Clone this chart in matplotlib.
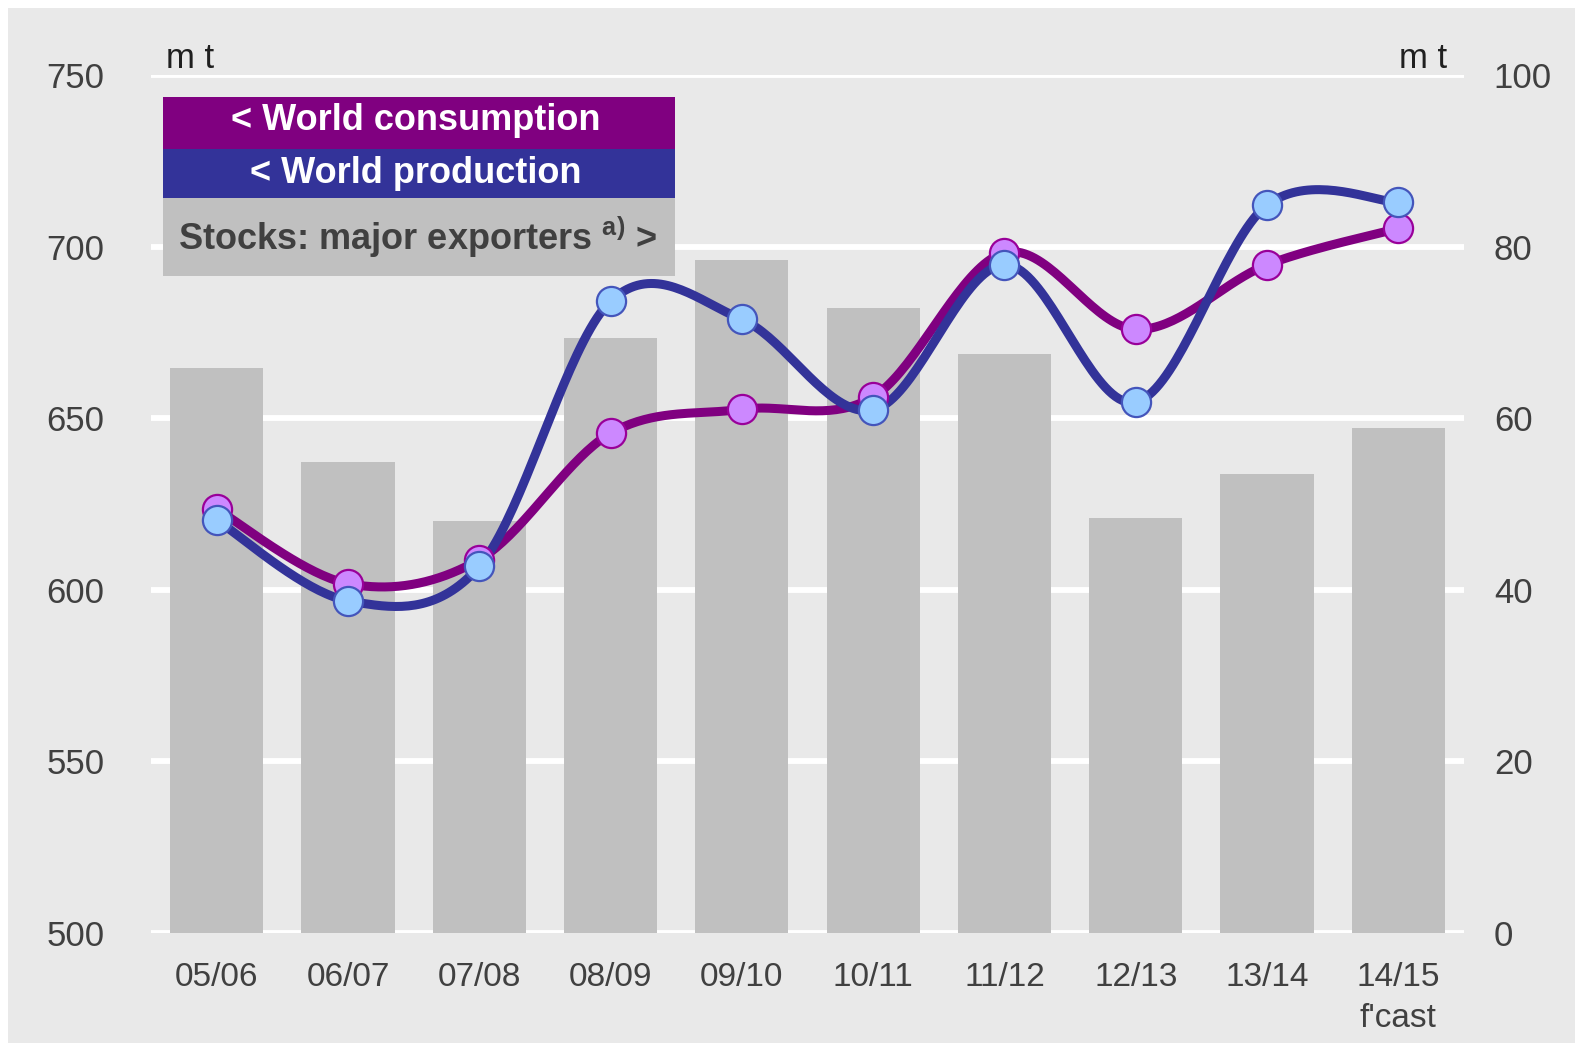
import numpy as np
import matplotlib
matplotlib.use("Agg")
import matplotlib.pyplot as plt
from matplotlib.patches import Rectangle

# ---- data ----
seasons = ["05/06", "06/07", "07/08", "08/09", "09/10", "10/11", "11/12", "12/13", "13/14", "14/15\nf'cast"]
stocks = [65.8, 54.9, 48.0, 69.4, 78.4, 72.9, 67.5, 48.4, 53.5, 58.8]
consumption = [623.5, 601.8, 608.8, 645.6, 652.6, 656.2, 698.2, 675.9, 694.7, 705.3]
production = [620.3, 596.8, 606.8, 684.1, 678.8, 652.4, 694.7, 654.7, 712.1, 712.9]
left_ticks = [500, 550, 600, 650, 700, 750]
right_ticks = [0, 20, 40, 60, 80, 100]

FONT = "Liberation Sans"
plt.rcParams["font.family"] = [FONT, "DejaVu Sans"]
BG = "#e9e9e9"
TXT = "#404040"


def smooth(xs, ys, n=40):
    """Excel-like smoothed line (cubic Bezier through points)."""
    P = np.column_stack([xs, ys]).astype(float)
    out = []
    m = len(P)
    for i in range(m - 1):
        p0 = P[i - 1] if i > 0 else P[i]
        p1 = P[i]
        p2 = P[i + 1]
        p3 = P[i + 2] if i + 2 < m else P[i + 1]
        c1 = p1 + (p2 - p0) / 6.0
        c2 = p2 - (p3 - p1) / 6.0
        t = np.linspace(0, 1, n)[:, None]
        seg = ((1 - t) ** 3) * p1 + 3 * ((1 - t) ** 2) * t * c1 + 3 * (1 - t) * t ** 2 * c2 + t ** 3 * p2
        out.append(seg if i == 0 else seg[1:])
    s = np.vstack(out)
    return s[:, 0], s[:, 1]


W, H = 1583, 1051
fig = plt.figure(figsize=(W / 100, H / 100), dpi=100)
fig.patch.set_facecolor("white")
fig.patches.append(Rectangle((8 / W, 8 / H), (W - 16) / W, (H - 16) / H,
                             transform=fig.transFigure, facecolor=BG, edgecolor="none", zorder=-10))

ax = fig.add_axes([151 / W, (H - 933) / H, (1464 - 151) / W, (933 - 75) / H])
ax.set_facecolor("none")
axl = ax.twinx()
x = np.arange(len(seasons))

# stocks bars (right scale)
ax.bar(x, stocks, width=0.71, color="#c0c0c0", zorder=2)
ax.set_ylim(0, 100)
ax.set_xlim(-0.5, len(seasons) - 0.5)
ax.set_yticks(right_ticks)
ax.tick_params(axis="y", left=False, right=False, labelleft=False, labelright=True,
               labelsize=25, labelcolor=TXT, pad=18)
for t in right_ticks:
    ax.axhline(t, color="white", lw=4.2, zorder=1)
ax.set_xticks(x)
ax.set_xticklabels(seasons, linespacing=1.4)
ax.tick_params(axis="x", length=0, pad=21, labelsize=24, labelcolor=TXT)
for s in ax.spines.values():
    s.set_visible(False)

# lines (left scale)
axl.set_ylim(500, 750)
axl.set_yticks(left_ticks)
axl.tick_params(axis="y", left=False, right=False, labelleft=True, labelright=False,
                labelsize=25, labelcolor=TXT, pad=30)
for s in axl.spines.values():
    s.set_visible(False)

cx, cy = smooth(x, consumption)
px, py = smooth(x, production)
axl.plot(cx, cy, color="#800080", lw=6.5, zorder=3, solid_capstyle="round")
axl.plot(px, py, color="#333399", lw=6.5, zorder=4, solid_capstyle="round")
axl.plot(x, consumption, ls="none", marker="o", ms=21, mfc="#cc88ff", mec="#990099", mew=1.6, zorder=5)
axl.plot(x, production, ls="none", marker="o", ms=21, mfc="#99ccff", mec="#4455bb", mew=1.6, zorder=6)

# units
fig.text(166 / W, 1 - 68 / H, "m t", fontsize=25, color="#202020", ha="left", va="baseline")
fig.text(1447 / W, 1 - 68 / H, "m t", fontsize=25, color="#202020", ha="right", va="baseline")

# legend boxes
def box(y0, y1, color):
    fig.patches.append(Rectangle((163 / W, 1 - y1 / H), (675 - 163) / W, (y1 - y0) / H,
                                 transform=fig.transFigure, facecolor=color, edgecolor="none", zorder=5))

box(97, 149, "#800080")
box(149, 198, "#333399")
box(198, 276, "#c0c0c0")
fig.text(416 / W, 1 - 121 / H, "< World consumption", fontsize=26, fontweight="bold", color="white",
         ha="center", va="center", zorder=6)
fig.text(416 / W, 1 - 173 / H, "< World production", fontsize=26, fontweight="bold", color="white",
         ha="center", va="center", zorder=6)
fig.text(178 / W, 1 - 237 / H, r"Stocks: major exporters $^{\mathregular{a)}}$ >", fontsize=26, fontweight="bold",
         color="#404040", ha="left", va="center", zorder=6)

fig.savefig("out.png", dpi=100, facecolor=fig.get_facecolor())
